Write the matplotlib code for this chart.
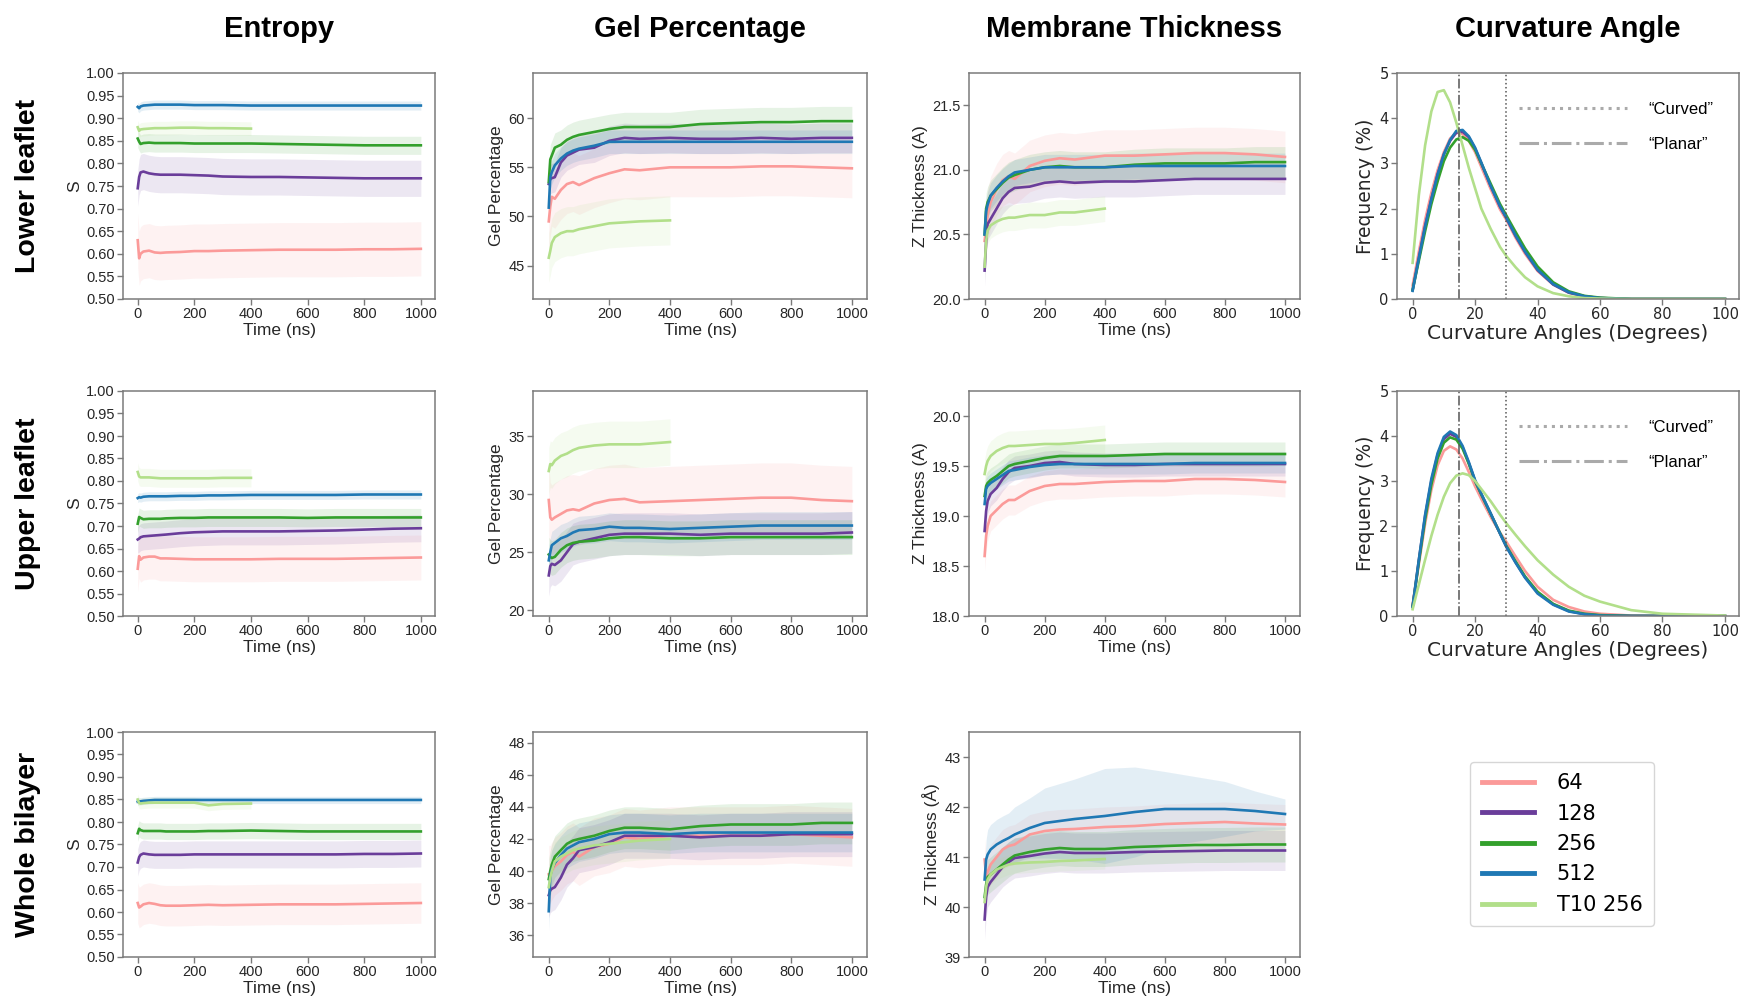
import matplotlib.pyplot as plt
from matplotlib.lines import Line2D

plt.rcParams['font.family'] = ['Liberation Sans', 'DejaVu Sans']

sizes = ['64', '128', '256', '512', 'T10 256']
colors = ['#fb9a99', '#6a3d9a', '#33a02c', '#1f78b4', '#b2df8a']

# time points (ns); the T10 run stops at 400 ns
t_long = [0, 5, 10, 20, 40, 60, 80, 100, 150, 200, 250, 300, 400, 500, 600, 700, 800, 900, 1000]
t_short = t_long[:13]

# ---- Entropy ----
ent_low_64 = [0.63, 0.59, 0.60, 0.605, 0.607, 0.603, 0.602, 0.603, 0.604, 0.606, 0.606, 0.607, 0.608, 0.609, 0.609, 0.609, 0.610, 0.610, 0.611]
ent_low_128 = [0.745, 0.77, 0.78, 0.782, 0.778, 0.776, 0.775, 0.775, 0.775, 0.774, 0.773, 0.771, 0.770, 0.770, 0.769, 0.768, 0.767, 0.767, 0.767]
ent_low_256 = [0.855, 0.848, 0.843, 0.845, 0.846, 0.845, 0.845, 0.845, 0.845, 0.844, 0.844, 0.844, 0.844, 0.843, 0.842, 0.841, 0.840, 0.840, 0.840]
ent_low_512 = [0.925, 0.922, 0.926, 0.928, 0.929, 0.930, 0.930, 0.930, 0.930, 0.929, 0.929, 0.929, 0.928, 0.928, 0.928, 0.928, 0.928, 0.928, 0.928]
ent_low_t10 = [0.88, 0.872, 0.875, 0.876, 0.877, 0.878, 0.878, 0.878, 0.879, 0.879, 0.878, 0.878, 0.877]
ent_low_band = [0.06, 0.04, 0.02, 0.01, 0.015]

ent_up_64 = [0.605, 0.633, 0.625, 0.630, 0.632, 0.632, 0.628, 0.628, 0.627, 0.626, 0.626, 0.626, 0.626, 0.627, 0.627, 0.627, 0.628, 0.629, 0.630]
ent_up_128 = [0.670, 0.672, 0.675, 0.677, 0.678, 0.679, 0.680, 0.681, 0.684, 0.686, 0.687, 0.688, 0.688, 0.688, 0.689, 0.690, 0.692, 0.694, 0.695]
ent_up_256 = [0.705, 0.720, 0.718, 0.715, 0.716, 0.716, 0.716, 0.717, 0.718, 0.718, 0.719, 0.719, 0.719, 0.719, 0.718, 0.719, 0.719, 0.719, 0.719]
ent_up_512 = [0.762, 0.764, 0.763, 0.765, 0.766, 0.766, 0.766, 0.766, 0.767, 0.767, 0.768, 0.768, 0.769, 0.769, 0.769, 0.769, 0.770, 0.770, 0.770]
ent_up_t10 = [0.820, 0.810, 0.808, 0.808, 0.808, 0.807, 0.806, 0.806, 0.806, 0.806, 0.806, 0.807, 0.807]
ent_up_band = [0.05, 0.03, 0.02, 0.01, 0.02]

ent_all_64 = [0.620, 0.610, 0.612, 0.617, 0.620, 0.618, 0.615, 0.614, 0.614, 0.615, 0.616, 0.615, 0.616, 0.617, 0.617, 0.617, 0.618, 0.619, 0.620]
ent_all_128 = [0.710, 0.722, 0.727, 0.730, 0.728, 0.727, 0.727, 0.727, 0.727, 0.728, 0.728, 0.728, 0.728, 0.728, 0.728, 0.728, 0.729, 0.729, 0.730]
ent_all_256 = [0.775, 0.785, 0.782, 0.780, 0.780, 0.780, 0.780, 0.779, 0.779, 0.779, 0.780, 0.780, 0.781, 0.780, 0.779, 0.779, 0.779, 0.779, 0.779]
ent_all_512 = [0.845, 0.846, 0.846, 0.847, 0.848, 0.849, 0.849, 0.849, 0.849, 0.849, 0.849, 0.849, 0.849, 0.849, 0.849, 0.849, 0.849, 0.849, 0.849]
ent_all_t10 = [0.850, 0.842, 0.841, 0.842, 0.843, 0.843, 0.843, 0.843, 0.843, 0.843, 0.837, 0.840, 0.841]
ent_all_band = [0.045, 0.03, 0.018, 0.008, 0.012]

# ---- Gel percentage ----
gel_low_64 = [49.5, 51.0, 52.0, 51.8, 52.7, 53.3, 53.5, 53.2, 53.9, 54.4, 54.8, 54.7, 55.0, 55.0, 55.0, 55.1, 55.1, 55.0, 54.9]
gel_low_128 = [53.3, 53.8, 53.9, 54.0, 55.5, 56.2, 56.5, 56.8, 57.0, 57.7, 58.0, 57.9, 58.0, 57.9, 57.9, 58.0, 57.9, 58.0, 58.0]
gel_low_256 = [53.5, 55.8, 56.2, 57.0, 57.3, 57.8, 58.1, 58.3, 58.6, 58.9, 59.1, 59.1, 59.1, 59.4, 59.5, 59.6, 59.6, 59.7, 59.7]
gel_low_512 = [50.9, 54.0, 54.5, 55.2, 55.9, 56.4, 56.7, 56.9, 57.2, 57.6, 57.6, 57.6, 57.6, 57.6, 57.6, 57.6, 57.6, 57.6, 57.6]
gel_low_t10 = [45.8, 46.5, 47.3, 47.9, 48.3, 48.5, 48.5, 48.7, 49.0, 49.3, 49.4, 49.5, 49.6]
gel_low_band = [3.0, 1.5, 1.5, 1.2, 2.5]

gel_up_64 = [29.5, 28.0, 27.8, 28.0, 28.3, 28.6, 28.7, 28.6, 29.2, 29.5, 29.6, 29.3, 29.4, 29.5, 29.6, 29.7, 29.7, 29.5, 29.4]
gel_up_128 = [23.0, 23.8, 24.0, 23.9, 24.3, 25.0, 25.7, 25.9, 26.2, 26.5, 26.6, 26.6, 26.6, 26.5, 26.6, 26.6, 26.6, 26.6, 26.7]
gel_up_256 = [24.8, 24.6, 24.5, 24.6, 25.2, 25.6, 25.8, 25.9, 26.0, 26.2, 26.3, 26.3, 26.2, 26.2, 26.3, 26.3, 26.3, 26.3, 26.3]
gel_up_512 = [24.3, 25.0, 25.6, 25.8, 26.2, 26.4, 26.7, 26.9, 27.0, 27.2, 27.1, 27.1, 27.0, 27.1, 27.2, 27.3, 27.3, 27.3, 27.3]
gel_up_t10 = [32.0, 32.6, 32.5, 32.9, 33.3, 33.5, 33.8, 34.0, 34.2, 34.3, 34.3, 34.3, 34.5]
gel_up_band = [3.0, 1.8, 1.5, 1.2, 2.0]

gel_all_64 = [39.8, 39.8, 40.0, 40.3, 40.6, 41.0, 41.2, 40.9, 41.5, 41.7, 42.1, 42.0, 42.2, 42.2, 42.2, 42.2, 42.3, 42.2, 42.1]
gel_all_128 = [38.5, 38.8, 38.9, 39.0, 39.6, 40.4, 40.8, 41.3, 41.5, 41.8, 42.2, 42.2, 42.2, 42.1, 42.2, 42.2, 42.3, 42.3, 42.3]
gel_all_256 = [39.5, 40.0, 40.4, 40.9, 41.3, 41.7, 41.9, 42.0, 42.2, 42.5, 42.7, 42.7, 42.6, 42.8, 42.9, 42.9, 42.9, 43.0, 43.0]
gel_all_512 = [37.5, 39.7, 40.1, 40.5, 41.0, 41.4, 41.6, 41.8, 42.0, 42.3, 42.4, 42.4, 42.3, 42.4, 42.4, 42.4, 42.4, 42.4, 42.4]
gel_all_t10 = [39.0, 39.6, 40.0, 40.6, 40.9, 41.1, 41.3, 41.4, 41.6, 41.7, 41.8, 41.9, 42.0]
gel_all_band = [1.8, 1.4, 1.3, 1.2, 1.2]

# ---- Membrane thickness ----
thk_low_64 = [20.45, 20.55, 20.65, 20.75, 20.85, 20.92, 20.95, 20.93, 21.03, 21.07, 21.09, 21.08, 21.11, 21.11, 21.12, 21.13, 21.13, 21.12, 21.10]
thk_low_128 = [20.22, 20.45, 20.58, 20.62, 20.70, 20.78, 20.83, 20.86, 20.87, 20.90, 20.91, 20.90, 20.91, 20.91, 20.92, 20.93, 20.93, 20.93, 20.93]
thk_low_256 = [20.50, 20.70, 20.75, 20.80, 20.85, 20.90, 20.94, 20.96, 21.00, 21.02, 21.03, 21.02, 21.02, 21.04, 21.05, 21.05, 21.05, 21.06, 21.06]
thk_low_512 = [20.50, 20.68, 20.73, 20.80, 20.86, 20.91, 20.95, 20.98, 21.00, 21.02, 21.02, 21.02, 21.02, 21.03, 21.03, 21.03, 21.03, 21.03, 21.03]
thk_low_t10 = [20.25, 20.45, 20.53, 20.57, 20.60, 20.62, 20.63, 20.63, 20.65, 20.65, 20.67, 20.67, 20.70]
thk_low_band = [0.2, 0.12, 0.12, 0.1, 0.1]

thk_up_64 = [18.60, 18.80, 18.90, 19.00, 19.06, 19.12, 19.16, 19.16, 19.25, 19.30, 19.32, 19.32, 19.34, 19.35, 19.35, 19.37, 19.37, 19.36, 19.34]
thk_up_128 = [18.85, 19.05, 19.15, 19.22, 19.28, 19.37, 19.44, 19.48, 19.50, 19.53, 19.54, 19.52, 19.51, 19.51, 19.52, 19.52, 19.52, 19.52, 19.52]
thk_up_256 = [19.20, 19.30, 19.33, 19.36, 19.40, 19.45, 19.50, 19.52, 19.55, 19.58, 19.60, 19.60, 19.60, 19.61, 19.62, 19.62, 19.62, 19.62, 19.62]
thk_up_512 = [19.12, 19.27, 19.30, 19.33, 19.37, 19.41, 19.45, 19.46, 19.49, 19.51, 19.52, 19.52, 19.52, 19.52, 19.52, 19.53, 19.53, 19.53, 19.53]
thk_up_t10 = [19.42, 19.50, 19.55, 19.60, 19.65, 19.68, 19.70, 19.70, 19.71, 19.72, 19.72, 19.73, 19.76]
thk_up_band = [0.15, 0.12, 0.12, 0.1, 0.15]

thk_all_64 = [40.95, 40.60, 40.70, 40.85, 41.00, 41.15, 41.22, 41.25, 41.45, 41.52, 41.55, 41.56, 41.60, 41.62, 41.66, 41.68, 41.70, 41.67, 41.65]
thk_all_128 = [39.75, 40.20, 40.40, 40.50, 40.65, 40.80, 40.90, 40.98, 41.02, 41.07, 41.10, 41.08, 41.08, 41.10, 41.11, 41.12, 41.13, 41.13, 41.13]
thk_all_256 = [40.20, 40.45, 40.60, 40.65, 40.75, 40.85, 40.95, 41.03, 41.10, 41.15, 41.18, 41.16, 41.16, 41.20, 41.22, 41.24, 41.24, 41.25, 41.25]
thk_all_512 = [40.55, 40.95, 41.05, 41.15, 41.25, 41.32, 41.38, 41.45, 41.58, 41.68, 41.72, 41.76, 41.82, 41.90, 41.96, 41.96, 41.96, 41.92, 41.86]
thk_all_t10 = [40.10, 40.40, 40.55, 40.65, 40.75, 40.80, 40.85, 40.87, 40.89, 40.90, 40.92, 40.93, 40.96]
thk_all_band = [0.4, 0.4, 0.35, 0.5, 0.2]
thk_all_512_band = [0.3, 0.4, 0.5, 0.5, 0.5, 0.5, 0.5, 0.55, 0.6, 0.7, 0.75, 0.8, 0.95, 0.9, 0.75, 0.65, 0.55, 0.4, 0.3]

# ---- Curvature angle distributions ----
angles = [0, 2, 4, 6, 8, 10, 12, 14, 16, 18, 20, 22, 25, 28, 30, 33, 36, 40, 45, 50, 55, 60, 70, 80, 100]
curv_low_64 = [0.3, 1.05, 1.75, 2.35, 2.85, 3.25, 3.55, 3.68, 3.65, 3.5, 3.25, 2.92, 2.43, 1.98, 1.75, 1.35, 1.0, 0.62, 0.32, 0.14, 0.05, 0.02, 0.0, 0.0, 0.0]
curv_low_128 = [0.2, 0.92, 1.62, 2.22, 2.76, 3.2, 3.5, 3.68, 3.7, 3.58, 3.33, 3.0, 2.5, 2.04, 1.79, 1.39, 1.04, 0.64, 0.32, 0.14, 0.06, 0.02, 0.0, 0.0, 0.0]
curv_low_256 = [0.2, 0.85, 1.5, 2.1, 2.6, 3.05, 3.35, 3.53, 3.58, 3.5, 3.3, 3.0, 2.55, 2.1, 1.85, 1.48, 1.12, 0.72, 0.37, 0.17, 0.07, 0.03, 0.0, 0.0, 0.0]
curv_low_512 = [0.18, 0.9, 1.6, 2.2, 2.75, 3.2, 3.52, 3.72, 3.74, 3.6, 3.35, 3.02, 2.5, 2.05, 1.8, 1.4, 1.05, 0.65, 0.33, 0.15, 0.06, 0.02, 0.0, 0.0, 0.0]
curv_low_t10 = [0.8, 2.3, 3.4, 4.15, 4.58, 4.62, 4.35, 3.9, 3.4, 2.9, 2.45, 2.0, 1.55, 1.15, 0.95, 0.7, 0.48, 0.28, 0.13, 0.06, 0.02, 0.01, 0.0, 0.0, 0.0]

curv_up_64 = [0.25, 1.15, 2.05, 2.8, 3.35, 3.67, 3.77, 3.7, 3.5, 3.2, 2.88, 2.6, 2.2, 1.85, 1.65, 1.32, 1.0, 0.65, 0.36, 0.2, 0.1, 0.05, 0.01, 0.0, 0.0]
curv_up_128 = [0.22, 1.25, 2.22, 3.0, 3.58, 3.93, 4.05, 3.98, 3.75, 3.4, 3.0, 2.7, 2.27, 1.83, 1.54, 1.19, 0.86, 0.52, 0.26, 0.11, 0.04, 0.01, 0.0, 0.0, 0.0]
curv_up_256 = [0.2, 1.2, 2.15, 2.92, 3.5, 3.85, 3.97, 3.92, 3.72, 3.38, 3.0, 2.7, 2.27, 1.84, 1.56, 1.21, 0.88, 0.54, 0.27, 0.12, 0.05, 0.02, 0.0, 0.0, 0.0]
curv_up_512 = [0.2, 1.25, 2.25, 3.05, 3.62, 3.98, 4.1, 4.02, 3.78, 3.42, 3.02, 2.72, 2.28, 1.83, 1.54, 1.18, 0.85, 0.5, 0.25, 0.1, 0.04, 0.01, 0.0, 0.0, 0.0]
curv_up_t10 = [0.15, 0.7, 1.25, 1.78, 2.25, 2.65, 2.95, 3.12, 3.17, 3.13, 3.0, 2.82, 2.55, 2.25, 2.06, 1.8, 1.55, 1.24, 0.92, 0.65, 0.45, 0.32, 0.13, 0.05, 0.01]

planar_angle = 15
curved_angle = 30

col_titles = ['Entropy', 'Gel Percentage', 'Membrane Thickness', 'Curvature Angle']
row_titles = ['Lower leaflet', 'Upper leaflet', 'Whole bilayer']

# layout in pixels (figure is 1741 x 996)
W, H = 1741, 996
cols_px = [(123, 312), (533, 334), (969, 331), (1397, 342)]
rows_px = [(73, 299), (391, 616), (732, 957)]

fig = plt.figure(figsize=(W / 100, H / 100), dpi=100)

spine_col = '#7a7a7a'
txt_col = '#262626'


def make_ax(r, c):
    x0, w = cols_px[c]
    top, bot = rows_px[r]
    ax = fig.add_axes([x0 / W, 1 - bot / H, w / W, (bot - top) / H])
    for s in ax.spines.values():
        s.set_color(spine_col)
        s.set_linewidth(1.1)
    ax.tick_params(direction='out', length=4, width=1, color=spine_col,
                   labelsize=10.5, labelcolor=txt_col, pad=2)
    return ax


def time_panel(ax, series, bands, ylim, yticks, ylabel, band_list=None):
    for i, (y, b) in enumerate(zip(series, bands)):
        t = t_short if i == 4 else t_long
        if band_list is not None and i == 3:
            lo = [v - d for v, d in zip(y, band_list)]
            hi = [v + d for v, d in zip(y, band_list)]
        else:
            lo = [v - b for v in y]
            hi = [v + b for v in y]
        ax.fill_between(t, lo, hi, color=colors[i], alpha=0.12, lw=0)
    for i, y in enumerate(series):
        t = t_short if i == 4 else t_long
        ax.plot(t, y, color=colors[i], lw=1.9)
    ax.set_xlim(-52, 1050)
    ax.set_xticks([0, 200, 400, 600, 800, 1000])
    ax.set_ylim(*ylim)
    ax.set_yticks(yticks)
    ax.set_xlabel('Time (ns)', fontsize=12.5, color=txt_col, labelpad=1)
    ax.set_ylabel(ylabel, fontsize=12.5, color=txt_col, labelpad=3)


def curv_panel(ax, series):
    for i, y in enumerate(series):
        ax.plot(angles, y, color=colors[i], lw=1.9)
    ax.axvline(planar_angle, color='#555555', lw=1.1, ls='-.')
    ax.axvline(curved_angle, color='#555555', lw=1.1, ls=':')
    ax.set_xlim(-5, 104.5)
    ax.set_ylim(0, 5)
    ax.set_xticks([0, 20, 40, 60, 80, 100])
    ax.set_yticks([0, 1, 2, 3, 4, 5])
    for lab in ax.get_xticklabels() + ax.get_yticklabels():
        lab.set_family('DejaVu Sans')
    ax.set_xlabel('Curvature Angles (Degrees)', family='DejaVu Sans', fontsize=14.5,
                  color=txt_col, labelpad=1)
    ax.set_ylabel('Frequency (%)', family='DejaVu Sans', fontsize=13.5, color=txt_col, labelpad=3)
    h = [Line2D([], [], color='#aaaaaa', lw=2.2, ls=':'),
         Line2D([], [], color='#aaaaaa', lw=2.2, ls='-.')]
    ax.legend(h, ['\u201cCurved\u201d', '\u201cPlanar\u201d'], loc='upper right',
              bbox_to_anchor=(0.97, 0.94), frameon=False, handlelength=6.5,
              handletextpad=1.3, labelspacing=1.2, prop={'size': 12})


ent = [[ent_low_64, ent_low_128, ent_low_256, ent_low_512, ent_low_t10],
       [ent_up_64, ent_up_128, ent_up_256, ent_up_512, ent_up_t10],
       [ent_all_64, ent_all_128, ent_all_256, ent_all_512, ent_all_t10]]
ent_bands = [ent_low_band, ent_up_band, ent_all_band]
gel = [[gel_low_64, gel_low_128, gel_low_256, gel_low_512, gel_low_t10],
       [gel_up_64, gel_up_128, gel_up_256, gel_up_512, gel_up_t10],
       [gel_all_64, gel_all_128, gel_all_256, gel_all_512, gel_all_t10]]
gel_bands = [gel_low_band, gel_up_band, gel_all_band]
thk = [[thk_low_64, thk_low_128, thk_low_256, thk_low_512, thk_low_t10],
       [thk_up_64, thk_up_128, thk_up_256, thk_up_512, thk_up_t10],
       [thk_all_64, thk_all_128, thk_all_256, thk_all_512, thk_all_t10]]
thk_bands = [thk_low_band, thk_up_band, thk_all_band]

gel_lims = [(41.6, 64.6), (19.5, 38.9), (34.65, 48.66)]
gel_ticks = [[45, 50, 55, 60], [20, 25, 30, 35], [36, 38, 40, 42, 44, 46, 48]]
thk_lims = [(20.0, 21.75), (18.0, 20.25), (39.0, 43.5)]
thk_ticks = [[20.0, 20.5, 21.0, 21.5], [18.0, 18.5, 19.0, 19.5, 20.0], [39, 40, 41, 42, 43]]
thk_labels = ['Z Thickness (A)', 'Z Thickness (A)', 'Z Thickness (\u00c5)']

ent_ticks = [0.50 + 0.05 * k for k in range(11)]

for r in range(3):
    ax = make_ax(r, 0)
    time_panel(ax, ent[r], ent_bands[r], (0.5, 1.0), ent_ticks, 'S')
    ax.set_yticklabels(['%.2f' % v for v in ent_ticks])

    ax = make_ax(r, 1)
    time_panel(ax, gel[r], gel_bands[r], gel_lims[r], gel_ticks[r], 'Gel Percentage')

    ax = make_ax(r, 2)
    time_panel(ax, thk[r], thk_bands[r], thk_lims[r], thk_ticks[r], thk_labels[r],
               band_list=thk_all_512_band if r == 2 else None)
    if r < 2:
        ax.set_yticklabels(['%.1f' % v for v in thk_ticks[r]])

curv_panel(make_ax(0, 3), [curv_low_64, curv_low_128, curv_low_256, curv_low_512, curv_low_t10])
curv_panel(make_ax(1, 3), [curv_up_64, curv_up_128, curv_up_256, curv_up_512, curv_up_t10])

# column titles and row labels
for c, name in enumerate(col_titles):
    x0, w = cols_px[c]
    fig.text((x0 + w / 2) / W, 1 - 29 / H, name, ha='center', va='center',
             fontweight='bold', fontsize=21)
for r, name in enumerate(row_titles):
    top, bot = rows_px[r]
    fig.text(28 / W, 1 - (top + bot) / 2 / H, name, ha='center', va='center',
             rotation=90, fontweight='bold', fontsize=20.5)

# shared legend in the empty bottom-right slot
handles = [Line2D([], [], color=c, lw=3.5) for c in colors]
fig.legend(handles, sizes, loc='center', bbox_to_anchor=(1562 / W, 1 - 844 / H),
           frameon=True, edgecolor='#cccccc', fancybox=True,
           handlelength=2.5, handletextpad=1.1, labelspacing=0.5, borderpad=0.55,
           prop={'family': 'DejaVu Sans', 'size': 15})

fig.savefig('out.png', dpi=100)
